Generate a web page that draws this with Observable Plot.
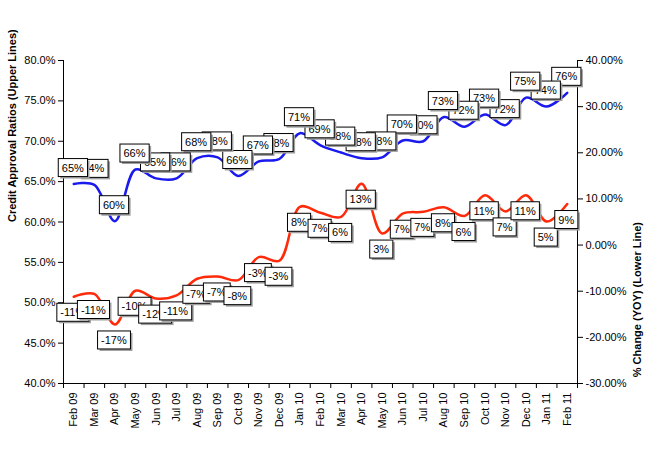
<!DOCTYPE html>
<html>
<head>
<meta charset="utf-8">
<script src="https://cdn.jsdelivr.net/npm/d3@7"></script>
<script src="https://cdn.jsdelivr.net/npm/@observablehq/plot@0.6"></script>
<style>
  html, body { margin: 0; padding: 0; background: #fff; }
  body { width: 650px; height: 460px; overflow: hidden; }
</style>
</head>
<body>
<div id="chart"></div>
<script>
const months = ["Feb 09","Mar 09","Apr 09","May 09","Jun 09","Jul 09","Aug 09","Sep 09","Oct 09","Nov 09","Dec 09","Jan 10","Feb 10","Mar 10","Apr 10","May 10","Jun 10","Jul 10","Aug 10","Sep 10","Oct 10","Nov 10","Dec 10","Jan 11","Feb 11"];
// Credit approval ratio (left axis, %)
const approval = [64.7,64.6,60.1,66.5,65.4,65.4,67.9,68.0,65.7,67.5,67.8,71.0,69.5,68.6,67.9,68.0,70.1,70.0,73.0,71.8,73.3,72.0,75.4,74.3,76.0];
const approvalLabels = ["65%","64%","60%","66%","65%","66%","68%","68%","66%","67%","68%","71%","69%","68%","68%","68%","70%","70%","73%","72%","73%","72%","75%","74%","76%"];
// % change YoY (right axis, %)
const yoy = [-11.2,-10.6,-17.2,-9.9,-11.6,-10.9,-7.3,-6.8,-7.6,-2.6,-3.4,8.3,7.0,6.1,13.3,2.5,6.8,7.2,8.2,6.3,10.8,7.3,10.8,5.1,8.9];
const yoyLabels = ["-11%","-11%","-17%","-10%","-12%","-11%","-7%","-7%","-8%","-3%","-3%","8%","7%","6%","13%","3%","7%","7%","8%","6%","11%","7%","11%","5%","9%"];
const leftTicks = [40,45,50,55,60,65,70,75,80];
const rightTicks = [-30,-20,-10,0,10,20,30,40];

// map right axis (-30..40) onto left axis (40..80)
const toLeft = v => 40 + (v + 30) * 40 / 70;
const fromLeft = y => (y - 40) * 70 / 40 - 30;

const blueData = approval.map((v, i) => ({i, v, label: approvalLabels[i]}));
const redData = yoy.map((v, i) => ({i, v: toLeft(v), label: yoyLabels[i]}));

const font = "'Liberation Sans', Arial, Helvetica, sans-serif";
const BLUE = "#1a1aee";
const RED = "#ff2a0a";

const chart = Plot.plot({
  width: 650,
  height: 460,
  marginLeft: 63,
  marginRight: 73,
  marginTop: 60,
  marginBottom: 77,
  style: {fontFamily: font, fontSize: "11px", background: "#fff", color: "#000", overflow: "visible"},
  x: {type: "linear", domain: [-0.5, months.length - 0.5]},
  y: {domain: [40, 80]},
  marks: [
    // axis lines
    Plot.ruleY([40], {stroke: "#000", strokeWidth: 1}),
    Plot.ruleX([-0.5, months.length - 0.5], {stroke: "#000", strokeWidth: 1}),
    // left axis
    Plot.axisY({anchor: "left", ticks: leftTicks, tickSize: 5, tickPadding: 3, tickFormat: d => d.toFixed(1) + "%", label: null, stroke: "#000"}),
    // right axis
    Plot.axisY({anchor: "right", ticks: rightTicks.map(toLeft), tickSize: 5, tickPadding: 3, tickFormat: d => Math.round(fromLeft(d)).toFixed(2) + "%", label: null}),
    // x tick marks at category boundaries
    Plot.axisX({ticks: d3.range(-0.5, months.length, 1), tickSize: 5, tickFormat: () => "", label: null}),
    // x category labels
    Plot.axisX({ticks: d3.range(months.length), tickSize: 0, tickPadding: 9, tickRotate: -90, tickFormat: i => months[i], label: null}),
    // axis titles
    Plot.text(["Credit Approval Ratios (Upper Lines)"], {frameAnchor: "left", rotate: -90, dx: -51, fontWeight: "bold", fontSize: 11}),
    Plot.text(["% Change (YOY) (Lower Line)"], {frameAnchor: "right", rotate: -90, dx: 60, fontWeight: "bold", fontSize: 11}),
    // lines
    Plot.line(blueData, {x: "i", y: "v", stroke: BLUE, strokeWidth: 2.5, curve: "catmull-rom"}),
    Plot.line(redData, {x: "i", y: "v", stroke: RED, strokeWidth: 2.5, curve: "catmull-rom"}),
    // data labels (earlier blue labels on top, later red labels on top)
    Plot.text(blueData.slice().reverse(), {x: "i", y: "v", text: "label", dy: -16, dx: -1, fontSize: 11, fill: "#000", className: "dlabel"}),
    Plot.text(redData, {x: "i", y: "v", text: "label", dy: 16, dx: -1, fontSize: 11, fill: "#000", className: "dlabel"})
  ]
});

document.getElementById("chart").append(chart);

// draw boxed labels with shadow behind each data label text
const NS = "http://www.w3.org/2000/svg";
chart.querySelectorAll("g.dlabel text").forEach(t => {
  const b = t.getBBox();
  const padX = 3.5, padY = 3;
  const tr = t.getAttribute("transform");
  const mk = (dx, dy, fill, stroke) => {
    const r = document.createElementNS(NS, "rect");
    r.setAttribute("x", b.x - padX + dx);
    r.setAttribute("y", b.y - padY + dy);
    r.setAttribute("width", b.width + 2 * padX);
    r.setAttribute("height", b.height + 2 * padY);
    r.setAttribute("fill", fill);
    if (stroke) { r.setAttribute("stroke", stroke); r.setAttribute("stroke-width", 1); }
    else r.setAttribute("stroke", "none");
    if (tr) r.setAttribute("transform", tr);
    return r;
  };
  t.parentNode.insertBefore(mk(2, 2, "#a0a0a0", null), t);
  t.parentNode.insertBefore(mk(0, 0, "#fff", "#000"), t);
});
</script>
</body>
</html>
